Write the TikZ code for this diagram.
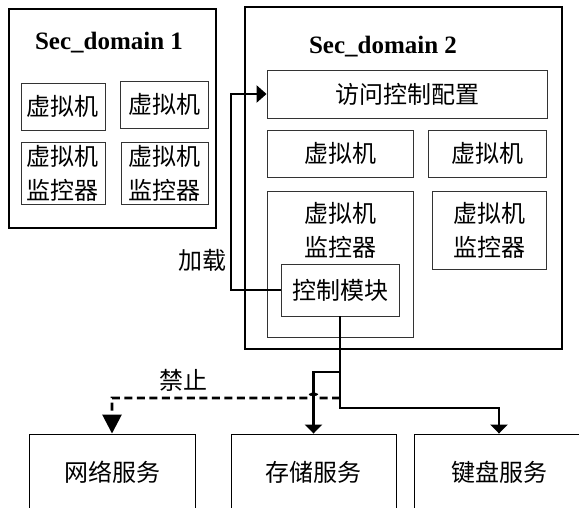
\documentclass[tikz,border=0pt]{standalone}
\usepackage{fontspec}
\setmainfont{Liberation Serif}
\newfontfamily\cjk{Noto Sans CJK SC}
\usetikzlibrary{arrows.meta}
\begin{document}
\begin{tikzpicture}[x=1pt,y=-1pt,
  dom/.style={draw=black, inner sep=0pt},
  box/.style={draw=black!80, line width=0.9pt, inner sep=0pt, align=center,
    font=\cjk\fontsize{24}{34}\selectfont},
  txt/.style={inner sep=0pt, align=center, font=\cjk\fontsize{24}{34}\selectfont},
  title/.style={inner sep=0pt, font=\bfseries\fontsize{25}{30}\selectfont},
  conn/.style={draw=black, line width=2.7pt},
  solidtip/.style={-{Triangle[length=9pt,width=17pt]}},
  dashconn/.style={draw=black, line width=2.7pt, dash pattern=on 8pt off 4.5pt}
]
\useasboundingbox (0,0) rectangle (579,508);
\clip (0,0) rectangle (579,508);
\fill[white] (0,0) rectangle (579,508);

% Sec_domain 1
\node[dom, line width=1.6pt, minimum width=207pt, minimum height=219pt] (d1) at (112.5,118.5) {};
\node[title] (t1) at (109,43) {Sec\_domain 1};
\node[box, minimum width=84pt, minimum height=47pt] (d1vm1) at (63,106.5) {虚拟机};
\node[box, minimum width=88pt, minimum height=47pt] (d1vm2) at (164,104.5) {虚拟机};
\node[box, minimum width=84pt, minimum height=62pt] (d1vmm1) at (63,173) {虚拟机\\监控器};
\node[box, minimum width=87pt, minimum height=62pt] (d1vmm2) at (164.5,173) {虚拟机\\监控器};

% Sec_domain 2
\node[dom, line width=2pt, minimum width=317pt, minimum height=342pt] (d2) at (403.5,178) {};
\node[title] (t2) at (383,47) {Sec\_domain 2};
\node[box, minimum width=280pt, minimum height=48pt] (acc) at (407,94) {访问控制配置};
\node[box, minimum width=146pt, minimum height=47pt] (d2vm1) at (340,153.5) {虚拟机};
\node[box, minimum width=118pt, minimum height=47pt] (d2vm2) at (487,153.5) {虚拟机};
\node[box, minimum width=146pt, minimum height=146pt] (d2vmm1) at (340,264) {};
\node[txt] (d2vmm1t) at (340,230) {虚拟机\\监控器};
\node[box, minimum width=114pt, minimum height=78pt] (d2vmm2) at (489,230) {虚拟机\\监控器};
\node[box, fill=white, minimum width=118pt, minimum height=52pt] (ctrl) at (340,290) {控制模块};

% services
\node[box, draw=black, minimum width=166pt, minimum height=76pt] (net) at (112,472) {网络服务};
\node[box, draw=black, minimum width=165pt, minimum height=76pt] (sto) at (313.5,472) {存储服务};
\node[box, draw=black, minimum width=170pt, minimum height=76pt] (kbd) at (499,472) {键盘服务};

% labels
\node[txt] (lload) at (202,260) {加载};
\node[txt] (lforbid) at (183,380) {禁止};

% connectors
\coordinate (lk) at (231,94);
\draw[conn, -{Triangle[length=10pt,width=17pt]}] (ctrl.west) -| (lk) -- (acc.west);

\coordinate (j1) at (340,372);
\coordinate (j2) at (340,408);
\coordinate (j3) at (340,398);
\coordinate (h1) at (318,398);
\draw[conn, solidtip] (ctrl.south) -- (j2) -| (kbd.north);
\draw[conn, solidtip] (j1) -| (sto.north);
\draw[dashconn, -{Triangle[length=19pt,width=19pt]}] (j3) -- (h1)
  arc[start angle=0, end angle=180, radius=4.5pt] -- (net.north |- j3) -- (net.north);
\end{tikzpicture}
\end{document}
